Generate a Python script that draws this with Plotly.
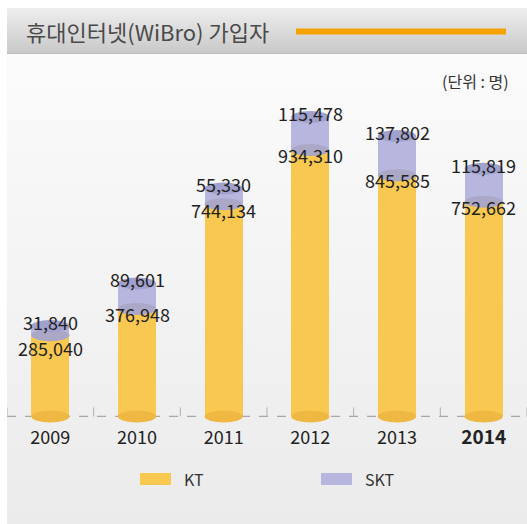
import plotly.graph_objects as go

years = ["2009", "2010", "2011", "2012", "2013", "2014"]
kt = [285040, 376948, 744134, 934310, 845585, 752662]
skt = [31840, 89601, 55330, 115478, 137802, 115819]
title_text = "휴대인터넷(WiBro) 가입자"
unit_text = "(단위 : 명)"

W, H = 527, 524
FONT = "Noto Sans CJK KR"

# main plot area in pixels
PX_L, PX_R, PX_T, PX_B = 7, 527, 60, 425
Y_MIN, Y_MAX = -30000, 1250000
upp = (Y_MAX - Y_MIN) / (PX_B - PX_T)  # data units per pixel

xs = list(range(len(years)))
bw = 0.44

fig = go.Figure()

# ---- background (pixel subplot x/y) ----
fig.add_trace(go.Scatter(
    x=[7, 527, 527, 7, 7], y=[54, 54, 524, 524, 54], mode="lines",
    line=dict(width=0), fill="toself", hoverinfo="skip", showlegend=False,
    fillgradient=dict(type="vertical", start=60, stop=524,
                      colorscale=[[0, "#FBFBFB"], [1, "#EBEBEB"]]),
    xaxis="x", yaxis="y"))
fig.add_trace(go.Scatter(
    x=[7, 527, 527, 7, 7], y=[8, 8, 53, 53, 8], mode="lines",
    line=dict(width=0), fill="toself", hoverinfo="skip", showlegend=False,
    fillgradient=dict(type="vertical", start=8, stop=53,
                      colorscale=[[0, "#EEEEEE"], [1, "#C9C9C9"]]),
    xaxis="x", yaxis="y"))

# ---- bars ----
fig.add_trace(go.Bar(x=xs, y=kt, width=bw, name="KT",
                     marker=dict(color="#F9C850", line=dict(width=0)),
                     xaxis="x2", yaxis="y2", showlegend=False, hoverinfo="skip"))
fig.add_trace(go.Bar(x=xs, y=skt, width=bw, name="SKT",
                     marker=dict(color="#B6B6DF", line=dict(width=0)),
                     xaxis="x2", yaxis="y2", showlegend=False, hoverinfo="skip"))

shapes = []
# title bar bottom line and orange line
shapes.append(dict(type="line", xref="x", yref="y", x0=7, x1=527, y0=53.5, y1=53.5,
                   line=dict(color="#BDBDBD", width=1)))
shapes.append(dict(type="line", xref="x", yref="y", x0=296, x1=506, y0=31.5, y1=31.5,
                   line=dict(color="#F5A300", width=6)))

# baseline dashed + ticks
shapes.append(dict(type="line", xref="x2", yref="y2", x0=-0.5, x1=5.5, y0=0, y1=0,
                   line=dict(color="#A8A8A8", width=1.2, dash="dash"), layer="below"))
for i in range(len(years) + 1):
    shapes.append(dict(type="line", xref="x2", yref="y2", x0=i - 0.5, x1=i - 0.5,
                       y0=0, y1=9 * upp, line=dict(color="#B0B0B0", width=1), layer="below"))

eh = 6 * upp
tot = [a + b for a, b in zip(kt, skt)]
for i in xs:
    x0, x1 = i - bw / 2, i + bw / 2
    shapes.append(dict(type="circle", xref="x2", yref="y2", x0=x0, x1=x1,
                       y0=-eh, y1=eh, fillcolor="#EFB843", line=dict(width=0)))
    shapes.append(dict(type="circle", xref="x2", yref="y2", x0=x0, x1=x1,
                       y0=kt[i] - eh, y1=kt[i] + eh, fillcolor="#ABA7C6", line=dict(width=0)))
    shapes.append(dict(type="circle", xref="x2", yref="y2", x0=x0, x1=x1,
                       y0=tot[i] - eh, y1=tot[i] + eh, fillcolor="#A1A1CE", line=dict(width=0)))

annotations = []
SKT_SHIFT, KT_SHIFT, MIN_SEP = 4, -5, 26
for i in xs:
    label_font = dict(family=FONT, size=18, color="#222222")
    annotations.append(dict(x=i, y=tot[i], xref="x2", yref="y2", text=f"{skt[i]:,}",
                            showarrow=False, yshift=SKT_SHIFT, yanchor="middle", font=label_font))
    gap_px = (tot[i] - kt[i]) / upp
    # KT label sits just under the KT top, but never closer than MIN_SEP px to the SKT label
    shift_from_tot = min(KT_SHIFT - gap_px, SKT_SHIFT - MIN_SEP)
    annotations.append(dict(x=i, y=tot[i], xref="x2", yref="y2", text=f"{kt[i]:,}",
                            showarrow=False, yshift=shift_from_tot, yanchor="middle",
                            font=label_font))

# title & unit
annotations.append(dict(x=24, y=31, xref="x", yref="y", text=title_text, showarrow=False,
                        xanchor="left", yanchor="middle",
                        font=dict(family=FONT, size=22, color="#4A4A4A")))
annotations.append(dict(x=511, y=81, xref="x", yref="y", text=unit_text, showarrow=False,
                        xanchor="right", yanchor="middle",
                        font=dict(family=FONT, size=16, color="#333333")))

# legend (manual)
legend_items = [("KT", "#F9C850", 140), ("SKT", "#B6B6DF", 321)]
for name, col, lx in legend_items:
    shapes.append(dict(type="rect", xref="x", yref="y", x0=lx, x1=lx + 31, y0=473, y1=485,
                       fillcolor=col, line=dict(width=0)))
    annotations.append(dict(x=lx + 42, y=479, xref="x", yref="y", text=name, showarrow=False,
                            xanchor="left", yanchor="middle",
                            font=dict(family=FONT, size=16, color="#333333")))

ticktext = [y if y != "2014" else "<b><span style='font-size:19px'>2014</span></b>" for y in years]

fig.update_layout(
    width=W, height=H, margin=dict(l=0, r=0, t=0, b=0),
    paper_bgcolor="white", plot_bgcolor="rgba(0,0,0,0)",
    barmode="stack", bargap=0, showlegend=False, hovermode=False,
    shapes=shapes, annotations=annotations,
    xaxis=dict(domain=[0, 1], range=[0, W], visible=False, fixedrange=True),
    yaxis=dict(domain=[0, 1], range=[H, 0], visible=False, fixedrange=True),
    xaxis2=dict(domain=[PX_L / W, PX_R / W], range=[-0.5, 5.5], anchor="y2",
                tickvals=xs, ticktext=ticktext, showgrid=False, zeroline=False,
                showline=False, ticks="", fixedrange=True,
                tickfont=dict(family=FONT, size=18, color="#222222")),
    yaxis2=dict(domain=[(H - PX_B) / H, (H - PX_T) / H], range=[Y_MIN, Y_MAX], anchor="x2",
                visible=False, showgrid=False, zeroline=False, fixedrange=True),
)

fig.write_html("out.html", config={"displayModeBar": False},
               post_script="document.body.style.margin='0';document.body.style.overflow='hidden';")
